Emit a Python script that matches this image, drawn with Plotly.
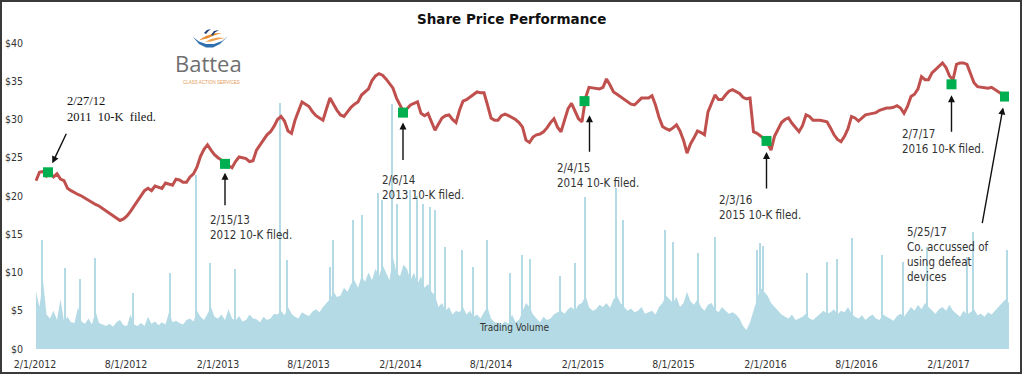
import pandas as pd
import plotly.graph_objects as go

# ---------------- data ----------------
price_start = "2012-02-03"          # weekly closes (Fridays)
price = [
    22.0, 23.1, 23.2, 22.6, 23.0, 22.5, 22.9, 22.2, 22.0, 21.0,
    20.7, 20.4, 20.2, 20.0, 19.7, 19.4, 19.2, 18.9, 18.7, 18.4,
    18.1, 17.8, 17.5, 17.2, 16.8, 17.0, 17.4, 18.0, 18.7, 19.3,
    20.0, 20.7, 21.0, 20.7, 21.3, 21.2, 21.0, 21.7, 21.5, 21.4,
    22.2, 22.1, 21.8, 21.8, 22.5, 22.9, 23.8, 25.2, 26.1, 26.7,
    26.0, 25.4, 25.0, 24.7, 24.2, 24.0, 23.7, 24.5, 25.1, 25.0,
    24.9, 24.5, 24.6, 26.0, 26.7, 27.3, 28.0, 28.4, 29.1, 30.0,
    30.4, 29.8, 28.5, 28.2, 29.9, 31.1, 32.3, 32.0, 31.7, 31.0,
    30.5, 30.2, 29.9, 31.4, 32.8, 32.0, 31.2, 30.6, 30.4, 31.0,
    31.6, 32.0, 32.3, 33.2, 33.6, 34.0, 35.1, 35.7, 36.0, 35.8,
    35.3, 34.7, 34.1, 32.8, 31.8, 31.0, 31.4, 31.9, 32.1, 32.3,
    30.8, 30.5, 30.8, 29.7, 28.6, 29.4, 30.2, 30.5, 30.6, 30.0,
    29.6, 31.2, 32.4, 32.6, 32.9, 33.2, 33.6, 33.5, 33.5, 31.9,
    30.2, 29.9, 29.9, 30.5, 30.7, 30.5, 30.3, 30.0, 29.6, 29.0,
    27.3, 27.0, 27.7, 28.0, 28.1, 28.4, 28.9, 29.6, 30.1, 29.0,
    28.4, 30.0, 31.4, 32.1, 31.0, 30.1, 29.7, 32.8, 34.2, 34.1,
    34.1, 34.0, 34.2, 35.3, 34.5, 33.6, 33.3, 33.0, 32.7, 32.3,
    32.0, 31.9, 32.3, 32.8, 32.8, 32.8, 33.1, 31.9, 30.3, 29.1,
    28.8, 28.6, 28.9, 29.3, 28.5, 27.3, 25.6, 26.8, 27.6, 28.5,
    28.3, 28.0, 31.0, 32.1, 33.2, 32.6, 32.6, 33.2, 33.7, 33.9,
    33.7, 33.4, 32.9, 32.7, 32.8, 28.4, 28.2, 27.9, 27.5, 26.9,
    26.0, 27.8, 28.7, 29.6, 30.0, 30.2, 29.5, 28.9, 28.4, 29.2,
    30.6, 30.4, 29.9, 29.9, 29.9, 29.8, 29.7, 28.9, 28.0, 27.4,
    27.1, 27.8, 28.8, 30.4, 30.2, 29.8, 30.2, 30.6, 30.7, 30.8,
    30.9, 31.2, 31.4, 31.5, 31.5, 31.6, 31.8, 31.5, 30.8, 31.7,
    33.0, 33.3, 34.0, 35.6, 35.2, 35.2, 36.1, 36.5, 37.0, 37.4,
    36.8, 35.7, 35.2, 37.2, 37.4, 37.4, 37.2, 36.0, 34.8, 34.3,
    34.2, 34.1, 34.1, 34.2, 33.9, 33.6, 33.3, 33.0, 33.3,
]

# weekly trading volume (scaled to the price axis)
volume = [
    7.5, 5.5, 9.0, 4.5, 4.0, 5.0, 3.8, 6.5, 3.6, 4.2,
    3.5, 3.4, 5.5, 3.6, 3.3, 4.0, 3.2, 5.0, 3.4, 3.2,
    3.0, 3.3, 2.9, 3.5, 3.8, 3.1, 3.0, 4.5, 3.2, 3.0,
    3.4, 3.0, 4.2, 3.3, 3.6, 3.1, 3.5, 3.2, 4.8, 3.5,
    3.7, 3.4, 3.2, 3.8, 4.0, 3.6, 5.0, 4.2, 3.8, 4.6,
    5.5, 4.2, 4.0, 4.5, 3.8, 5.2, 4.0, 3.7, 4.3, 3.6,
    3.8, 4.5, 4.0, 3.9, 3.5, 4.2, 3.8, 4.0, 4.6, 4.5,
    5.0, 4.4, 5.5, 4.6, 4.2, 4.0, 4.8, 4.5, 4.3, 4.9,
    5.2, 4.8, 5.5, 6.0, 6.5, 7.5, 6.8, 7.0, 8.0, 7.5,
    8.5, 9.0, 8.0, 9.5, 8.8, 10.0, 9.0, 10.5, 9.5, 11.0,
    10.0, 9.0, 12.0, 10.0, 9.5, 11.0, 10.5, 9.0, 10.0, 8.5,
    9.5, 8.0, 8.5, 7.5, 7.0, 5.5, 6.0, 5.0, 5.5, 4.5,
    5.0, 4.8, 5.5, 4.5, 5.0, 4.2, 4.5, 4.0, 4.8, 5.5,
    4.0, 3.5, 3.4, 3.2, 3.6, 3.3, 4.5, 3.5, 3.8, 5.0,
    6.0, 5.5, 4.5, 4.0, 3.5, 4.2, 3.8, 4.0, 4.5, 4.8,
    5.0, 4.6, 5.2, 5.5, 5.0, 5.8, 6.0, 7.0, 5.5, 5.0,
    5.2, 5.8, 5.5, 6.0, 5.4, 6.5, 7.0, 6.0, 5.5, 5.0,
    5.3, 4.8, 5.0, 5.5, 4.6, 4.8, 5.0, 4.5, 5.5, 6.0,
    7.0, 6.5, 6.0, 6.8, 5.5, 6.0, 7.5, 6.2, 5.8, 6.5,
    5.5, 5.0, 5.8, 6.0, 5.2, 4.8, 5.5, 5.0, 4.6, 4.8,
    4.5, 4.0, 3.0, 2.5, 3.5, 5.0, 6.5, 8.0, 7.5, 7.0,
    6.0, 5.5, 5.0, 4.5, 4.2, 4.0, 4.5, 3.8, 4.0, 4.2,
    4.6, 4.0, 3.8, 4.2, 4.5, 5.0, 4.6, 4.8, 5.2, 4.5,
    5.0, 4.8, 5.5, 4.6, 4.2, 4.0, 4.4, 3.8, 4.2, 4.5,
    4.0, 3.8, 4.5, 4.2, 4.0, 3.7, 4.3, 4.6, 4.2, 4.8,
    5.5, 5.0, 5.8, 5.2, 6.0, 5.5, 5.0, 4.6, 5.2, 5.5,
    5.0, 5.8, 5.0, 4.6, 4.2, 5.0, 4.5, 4.8, 5.2, 4.4,
    4.6, 4.2, 4.8, 4.5, 5.0, 5.4, 6.0, 6.5, 6.0,
]

# single-day volume spikes
spike_dates = [
    "2012-02-15", "2012-04-01", "2012-05-01", "2012-05-31", "2012-08-15",
    "2012-10-28", "2012-12-19", "2013-01-16", "2013-03-07", "2013-06-05",
    "2013-06-19", "2013-09-13", "2013-09-19", "2013-10-29", "2013-11-16",
    "2013-12-18", "2013-12-26", "2014-01-15", "2014-01-25", "2014-02-20",
    "2014-03-06", "2014-03-18", "2014-04-01", "2014-04-11", "2014-05-01",
    "2014-06-04", "2014-06-26", "2014-07-24", "2014-09-08", "2014-10-02",
    "2014-10-18", "2014-12-17", "2015-01-16", "2015-02-05", "2015-04-08",
    "2015-04-22", "2015-07-15", "2015-07-31", "2015-09-19", "2015-10-23",
    "2016-01-15", "2016-01-21", "2016-01-27", "2016-04-24", "2016-06-03",
    "2016-06-23", "2016-07-23", "2016-09-21", "2016-11-02", "2016-12-20",
    "2017-03-10", "2017-03-22", "2017-05-29",
]
spike_values = [
    14.2, 10.6, 9.2, 11.9, 7.3,
    9.9, 22.7, 11.2, 10.5, 32.2,
    11.6, 10.7, 14.2, 16.9, 17.5,
    20.4, 19.5, 32.0, 19.0, 20.8,
    20.0, 19.0, 18.6, 18.2, 13.3,
    12.9, 10.7, 14.2, 10.0, 12.3,
    11.8, 9.6, 11.2, 19.9, 21.0,
    16.9, 15.5, 14.0, 12.5, 14.6,
    13.0, 13.8, 13.4, 10.0, 11.4,
    11.8, 14.5, 12.3, 11.4, 13.3,
    12.0, 15.3, 13.0,
]

# filing / news events
event_dates = ["2012-02-27", "2013-02-15", "2014-02-06", "2015-02-04",
               "2016-02-03", "2017-02-07", "2017-05-25"]
event_prices = [23.1, 24.2, 30.9, 32.4, 27.2, 34.6, 33.0]
event_labels = [
    "2/27/12<br>2011  10-K  filed.",
    "2/15/13<br>2012 10-K filed.",
    "2/6/14<br>2013 10-K filed.",
    "2/4/15<br>2014 10-K filed.",
    "2/3/16<br>2015 10-K filed.",
    "2/7/17<br>2016 10-K filed.",
    "5/25/17<br>Co. accussed of<br>using defeat<br>devices",
]

x_tick_vals = ["2012-02-01", "2012-08-01", "2013-02-01", "2013-08-01", "2014-02-01",
               "2014-08-01", "2015-02-01", "2015-08-01", "2016-02-01", "2016-08-01",
               "2017-02-01"]
x_tick_text = ["2/1/2012", "8/1/2012", "2/1/2013", "8/1/2013", "2/1/2014", "8/1/2014",
               "2/1/2015", "8/1/2015", "2/1/2016", "8/1/2016", "2/1/2017"]
y_tick_vals = [0, 5, 10, 15, 20, 25, 30, 35, 40]
y_tick_text = ["$0", "$5", "$10", "$15", "$20", "$25", "$30", "$35", "$40"]

# ---------------- layout geometry ----------------
W, H = 1024, 376
L, R, T, B = 35, 15, 43, 27


def px(x):
    return (x - L) / (W - L - R)


def py(y):
    return (H - B - y) / (H - T - B)


SANS = "DejaVu Sans Condensed, DejaVu Sans"
TXT = "#333333"

week_dates = pd.date_range(price_start, periods=len(price), freq="7D")
vol_dates = pd.date_range(price_start, periods=len(volume), freq="7D")

fig = go.Figure()
fig.add_trace(go.Scatter(x=vol_dates, y=volume, mode="lines", fill="tozeroy",
                         line=dict(width=0, color="#b4dbe5"), fillcolor="#b4dbe5",
                         hoverinfo="skip", showlegend=False))
fig.add_trace(go.Bar(x=pd.to_datetime(spike_dates), y=spike_values,
                     width=2 * 86400000, marker=dict(color="#b4dbe5", line=dict(width=0)),
                     showlegend=False, hoverinfo="skip"))
fig.add_trace(go.Scatter(x=week_dates, y=price, mode="lines",
                         line=dict(color="#c0504d", width=3), showlegend=False))
fig.add_trace(go.Scatter(x=pd.to_datetime(event_dates), y=event_prices, mode="markers",
                         marker=dict(symbol="square", size=10, color="#00b050"),
                         showlegend=False))

# arrows: (ax, ay, standoff, xshift) in pixels relative to the event marker
arrow_geom = [(19, -40, 10, 0), (0, 43, 9, 0), (0, 49, 10, 0), (0, 52, 14, 5),
              (0, 49, 11, 0), (0, 49, 11, 0), (-23, 128, 11, 0)]
# label positions (left, vertical middle) in pixels
label_pos = [(65, 109), (208, 227.5), (380, 187), (555, 175.5), (717, 207.5),
             (900, 141.5), (905, 254.5)]

annotations = []
for i, (d, p) in enumerate(zip(event_dates, event_prices)):
    ax, ay, so, xs = arrow_geom[i]
    annotations.append(dict(x=d, y=p, xref="x", yref="y", ax=ax, ay=ay, text="",
                            showarrow=True, arrowhead=2, arrowsize=1, arrowwidth=1.4,
                            arrowcolor="#111111", standoff=so, xshift=xs))
    lx, ly = label_pos[i]
    font = (dict(family="Liberation Serif", size=12.5, color="#111111") if i == 0
            else dict(family=SANS, size=11.5, color=TXT))
    annotations.append(dict(x=px(lx), y=py(ly), xref="paper", yref="paper",
                            xanchor="left", yanchor="middle", align="left",
                            text=event_labels[i], showarrow=False, font=font))

annotations += [
    dict(x=px(511), y=py(19), xref="paper", yref="paper", text="<b>Share Price Performance</b>",
         xanchor="center", yanchor="middle", showarrow=False,
         font=dict(family="DejaVu Sans", size=13.5, color="#111111")),
    dict(x=px(514), y=py(327), xref="paper", yref="paper", text="Trading Volume",
         xanchor="center", yanchor="middle", showarrow=False,
         font=dict(family=SANS, size=10, color=TXT)),
    dict(x=px(208), y=py(63), xref="paper", yref="paper", text="Battea",
         xanchor="center", yanchor="middle", showarrow=False,
         font=dict(family="Open Sans", size=22, color="#6f6f70")),
    dict(x=px(211), y=py(82), xref="paper", yref="paper", text="CLASS ACTION SERVICES",
         xanchor="center", yanchor="middle", showarrow=False,
         font=dict(family="Liberation Sans", size=4.5, color="#e39a55")),
]


def path(points, close=True):
    s = "M " + " L ".join(f"{px(a):.5f},{py(b):.5f}" for a, b in points)
    return s + (" Z" if close else "")


shapes = [
    # outer frame
    dict(type="rect", xref="paper", yref="paper", x0=px(1), x1=px(1021), y0=py(373), y1=py(1),
         line=dict(color="#3a3a3a", width=2), layer="above"),
    # logo: blue smile
    dict(type="path", xref="paper", yref="paper",
         path=path([(193, 37), (199, 44), (206, 47.5), (213, 47.5), (220, 44), (228, 36),
                    (222, 41), (214, 44), (206, 44), (199, 41.5)]),
         fillcolor="#2f6fae", line=dict(width=0)),
    # logo: orange swooshes
    dict(type="path", xref="paper", yref="paper",
         path=path([(199, 40), (206, 36), (214, 33.5), (222, 33), (214, 35.5), (207, 38.5)]),
         fillcolor="#e8892b", line=dict(width=0)),
    dict(type="path", xref="paper", yref="paper",
         path=path([(205, 42), (211, 39), (218, 37.5), (225, 38), (218, 39.5), (211, 41.5)]),
         fillcolor="#f0a04b", line=dict(width=0)),
    # logo: navy top strokes
    dict(type="path", xref="paper", yref="paper",
         path=path([(204, 33), (207, 30), (211, 29), (208, 31.5), (206, 34)]),
         fillcolor="#1f3f73", line=dict(width=0)),
    dict(type="path", xref="paper", yref="paper",
         path=path([(211, 35), (214, 31), (219, 30), (215, 32.5), (213, 35.5)]),
         fillcolor="#1f3f73", line=dict(width=0)),
]

fig.update_layout(
    width=W, height=H, margin=dict(l=L, r=R, t=T, b=B, autoexpand=False),
    paper_bgcolor="white", plot_bgcolor="white",
    bargap=0, barmode="overlay", showlegend=False,
    annotations=annotations, shapes=shapes,
    xaxis=dict(type="date", range=["2012-02-01", "2017-06-02"], tickvals=x_tick_vals,
               ticktext=x_tick_text, showgrid=False, zeroline=False, showline=False,
               ticks="", ticklabelstandoff=7, automargin=False,
               tickfont=dict(family=SANS, size=10.5, color=TXT)),
    yaxis=dict(range=[0, 40], tickvals=y_tick_vals, ticktext=y_tick_text, showgrid=False,
               zeroline=False, showline=False, ticks="", ticklabelstandoff=11,
               automargin=False,
               tickfont=dict(family=SANS, size=10.5, color=TXT)),
)

fig.write_html("out.html", config={"displayModeBar": False},
               post_script="document.body.style.margin='0px';"
               "document.body.style.overflow='hidden';")
